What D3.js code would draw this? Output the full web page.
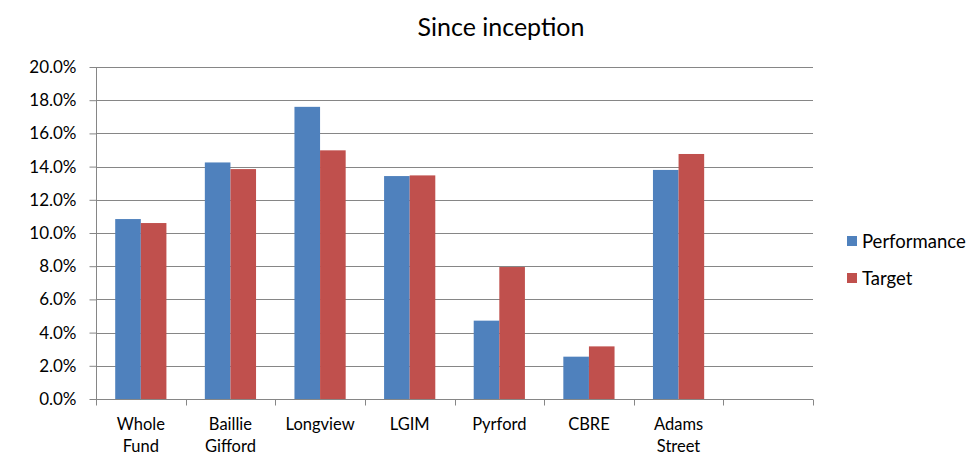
<!DOCTYPE html>
<html><head><meta charset="utf-8">
<script src="https://cdn.jsdelivr.net/npm/d3@7"></script>
<style>body{margin:0;background:#fff}svg{display:block}text{font-family:Lato,"Open Sans",sans-serif;fill:#000}</style>
</head><body><svg id="c" width="972" height="456"></svg>
<script>
const categories = ["Whole\nFund","Baillie\nGifford","Longview","LGIM","Pyrford","CBRE","Adams\nStreet",""];
const performance = [10.84,14.25,17.6,13.43,4.72,2.55,13.8,null];
const target = [10.6,13.85,14.98,13.47,7.95,3.17,14.76,null];
const yTicks = [0,2,4,6,8,10,12,14,16,18,20];
const seriesNames = ["Performance","Target"];
const colors = ["#4F81BD","#C0504D"];

const svg = d3.select("#c");
const x0 = d3.scaleBand().domain(d3.range(categories.length)).range([96,813]).paddingInner(0).paddingOuter(0);
const y = d3.scaleLinear().domain([0,20]).range([399,67]);
const groupW = x0.bandwidth()/1.75;
const x1 = d3.scaleBand().domain([0,1]).range([0,groupW]);

// gridlines
svg.append("g").selectAll("line").data(yTicks.slice(1)).join("line")
  .attr("x1",96).attr("x2",813).attr("y1",d=>Math.round(y(d))+0.5).attr("y2",d=>Math.round(y(d))+0.5)
  .attr("stroke","#868686").attr("stroke-width",1);

// bars
const series = [performance,target];
series.forEach((s,si)=>{
  svg.append("g").selectAll("rect").data(s.map((v,i)=>({v,i})).filter(d=>d.v!=null)).join("rect")
    .attr("x",d=>x0(d.i)+(x0.bandwidth()-groupW)/2+x1(si))
    .attr("width",x1.bandwidth())
    .attr("y",d=>y(d.v)).attr("height",d=>y(0)-y(d.v))
    .attr("fill",colors[si]);
});

// y axis
const ya = svg.append("g").attr("transform","translate(96.5,0)")
  .call(d3.axisLeft(y).tickValues(yTicks).tickSize(7).tickPadding(13).tickFormat(d=>d.toFixed(1)+"%"));
ya.select(".domain").attr("stroke","#868686").attr("d","M0,67V399");
ya.selectAll(".tick line").attr("stroke","#868686");
ya.selectAll("text").attr("font-size",17).attr("font-family","Lato,'Open Sans',sans-serif").attr("fill","#000");

// x axis
const xa = svg.append("g").attr("transform","translate(0,399.5)");
xa.append("line").attr("x1",96).attr("x2",813).attr("stroke","#868686");
xa.selectAll("line.t").data(d3.range(categories.length+1)).join("line").attr("class","t")
  .attr("x1",d=>Math.round(96+d*x0.bandwidth())+0.5).attr("x2",d=>Math.round(96+d*x0.bandwidth())+0.5)
  .attr("y1",0).attr("y2",6).attr("stroke","#868686");
categories.forEach((c,i)=>{
  const t = xa.append("text").attr("text-anchor","middle").attr("font-size",16.5)
    .attr("x",x0(i)+x0.bandwidth()/2).attr("y",30.5);
  c.split("\n").forEach((ln,j)=>t.append("tspan").attr("x",x0(i)+x0.bandwidth()/2).attr("dy",j?22:0).text(ln));
});

// title
svg.append("text").attr("x",501).attr("y",36).attr("text-anchor","middle").attr("font-size",25).text("Since inception");

// legend
seriesNames.forEach((n,i)=>{
  const yy = 241+i*37;
  svg.append("rect").attr("x",847).attr("y",yy-5).attr("width",10).attr("height",10).attr("fill",colors[i]);
  svg.append("text").attr("x",862).attr("y",yy+6.5).attr("font-size",18.5).text(n);
});
</script></body></html>
